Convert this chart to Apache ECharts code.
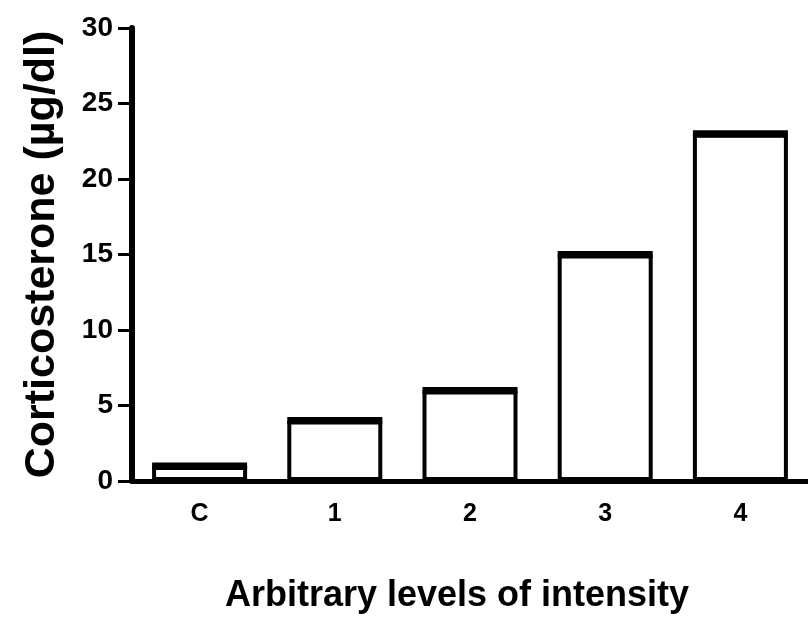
<!DOCTYPE html>
<html>
<head>
<meta charset="utf-8">
<script src="https://cdn.jsdelivr.net/npm/echarts@6/dist/echarts.min.js"></script>
<style>
  html, body { margin: 0; padding: 0; background: #fff; }
  #chart { width: 808px; height: 623px; }
</style>
</head>
<body>
<div id="chart"></div>
<script>
// 数据
var categories = ['C', '1', '2', '3', '4'];
var corticosterone = [1, 4, 6, 15, 23];
var yTicks = [0, 5, 10, 15, 20, 25, 30];

var font = '"Liberation Sans", Arial, sans-serif';

var chart = echarts.init(document.getElementById('chart'), null, { renderer: 'canvas' });

var option = {
  backgroundColor: '#fff',
  animation: false,
  grid: {
    left: 132,
    right: 0,
    top: 28,
    bottom: 142
  },
  xAxis: {
    type: 'category',
    data: categories,
    name: 'Arbitrary levels of intensity',
    nameLocation: 'middle',
    nameGap: 97,
    nameTextStyle: {
      fontFamily: font,
      fontSize: 36,
      fontWeight: 'bold',
      color: '#000',
      padding: [0, 26, 0, 0]
    },
    axisLine: { lineStyle: { color: '#000', width: 5 } },
    axisTick: { alignWithLabel: true, length: 15, lineStyle: { color: '#000', width: 3 } },
    axisLabel: {
      margin: 21,
      fontFamily: font,
      fontSize: 25,
      fontWeight: 'bold',
      color: '#000'
    },
    splitLine: { show: false }
  },
  yAxis: {
    type: 'value',
    min: yTicks[0],
    max: yTicks[yTicks.length - 1],
    interval: 5,
    name: 'Corticosterone (\u00b5g/dl)',
    nameLocation: 'middle',
    nameGap: 68,
    nameTextStyle: {
      fontFamily: font,
      fontSize: 43,
      fontWeight: 'bold',
      color: '#000'
    },
    axisLine: { show: true, lineStyle: { color: '#000', width: 6 } },
    axisTick: { show: true, length: 14, lineStyle: { color: '#000', width: 3 } },
    axisLabel: {
      margin: 19,
      fontFamily: font,
      fontSize: 28,
      fontWeight: 'bold',
      color: '#000'
    },
    splitLine: { show: false }
  },
  series: [{
    type: 'bar',
    data: corticosterone,
    barWidth: 95,
    itemStyle: {
      color: '#fff',
      borderColor: '#000',
      borderWidth: 4
    }
  }, {
    // 柱顶粗线
    type: 'scatter',
    data: corticosterone,
    symbol: 'rect',
    symbolSize: [95, 7],
    itemStyle: { color: '#000', opacity: 1 },
    z: 3
  }]
};

chart.setOption(option);
</script>
</body>
</html>
